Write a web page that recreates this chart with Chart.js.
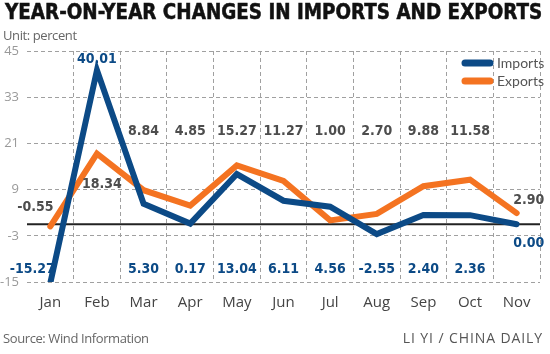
<!DOCTYPE html>
<html>
<head>
<meta charset="utf-8">
<script src="https://cdn.jsdelivr.net/npm/chart.js@4.4.1/dist/chart.umd.min.js"></script>
<style>
  body { margin: 0; background: #fff; }
  #wrap { position: relative; width: 550px; height: 354px; overflow: hidden; }
  #chart { position: absolute; left: 0; top: 0; }
  .txt { position: absolute; white-space: nowrap; }
  #title { left: 5px; top: 0px; font: bold 21px "DejaVu Sans Condensed", "DejaVu Sans"; font-stretch: condensed; line-height: 24px; color: #111; transform-origin: 0 0; -webkit-text-stroke: 0.5px #111; }
  #unit { left: 3px; top: 26px; font: 13px "Open Sans"; color: #666; letter-spacing: -0.4px; }
  #source { left: 3px; top: 329px; font: 13px "Open Sans"; color: #666; letter-spacing: -0.4px; }
  #credit { right: 7px; top: 328px; font: 14px "Open Sans"; color: #555; letter-spacing: 0.9px; }
</style>
</head>
<body>
<div id="wrap">
  <canvas id="chart" width="550" height="354"></canvas>
  <div class="txt" id="title">YEAR-ON-YEAR CHANGES IN IMPORTS AND EXPORTS</div>
  <div class="txt" id="unit">Unit: percent</div>
  <div class="txt" id="source">Source: Wind Information</div>
  <div class="txt" id="credit">LI YI / CHINA DAILY</div>
</div>
<script>
const months = ['Jan', 'Feb', 'Mar', 'Apr', 'May', 'Jun', 'Jul', 'Aug', 'Sep', 'Oct', 'Nov'];
const importsData = [-15.27, 40.01, 5.30, 0.17, 13.04, 6.11, 4.56, -2.55, 2.40, 2.36, 0.00];
const exportsData = [-0.55, 18.34, 8.84, 4.85, 15.27, 11.27, 1.00, 2.70, 9.88, 11.58, 2.90];
const yTicks = [-15, -3, 9, 21, 33, 45];

const blue = '#0c4a86';
const orange = '#f47321';

// fit the title to the width of the chart
const title = document.getElementById('title');
title.style.transform = 'scaleX(' + (537 / title.scrollWidth) + ')';

// where the value labels sit (pixels), with a few special cases
const labelRow = [269, 131];
const labelMoves = [
    { 0: { dx: -18, y: 269 }, 1: { dx: 0, y: 59 }, 10: { dx: 12, y: 243 } },
    { 0: { dx: -15, y: 207 }, 1: { dx: 5, y: 184 }, 10: { dx: 12, y: 200 } }
];
const labelColors = [blue, '#4d4d4d'];

const extras = {
    id: 'extras',
    beforeDatasetsDraw(chart) {
        const ctx = chart.ctx;
        const area = chart.chartArea;
        const y0 = chart.scales.y.getPixelForValue(0);
        ctx.save();
        ctx.strokeStyle = '#222';
        ctx.lineWidth = 2;
        ctx.beginPath();
        ctx.moveTo(area.left, y0);
        ctx.lineTo(area.right, y0);
        ctx.stroke();
        ctx.restore();
    },
    afterDatasetsDraw(chart) {
        const ctx = chart.ctx;
        const xs = chart.scales.x;
        ctx.save();
        ctx.font = 'bold 14px "DejaVu Sans Condensed", "DejaVu Sans"';
        ctx.textAlign = 'center';
        ctx.textBaseline = 'middle';
        chart.data.datasets.forEach((ds, s) => {
            ctx.fillStyle = labelColors[s];
            ds.data.forEach((v, i) => {
                const mv = labelMoves[s][i] || { dx: 0, y: labelRow[s] };
                ctx.fillText(v.toFixed(2), xs.getPixelForValue(i) + mv.dx, mv.y);
            });
        });

        // legend
        const items = [['Imports', blue, 63], ['Exports', orange, 81]];
        ctx.lineCap = 'round';
        ctx.lineWidth = 7;
        ctx.font = '14px Lato';
        ctx.textAlign = 'left';
        items.forEach(it => {
            ctx.strokeStyle = it[1];
            ctx.beginPath();
            ctx.moveTo(465, it[2]);
            ctx.lineTo(490, it[2]);
            ctx.stroke();
            ctx.fillStyle = '#555';
            ctx.fillText(it[0], 497, it[2]);
        });
        ctx.restore();
    }
};

new Chart(document.getElementById('chart'), {
    type: 'line',
    data: {
        labels: months,
        datasets: [
            { label: 'Imports', data: importsData, borderColor: blue, borderWidth: 6, pointRadius: 0, borderCapStyle: 'round', tension: 0 },
            { label: 'Exports', data: exportsData, borderColor: orange, borderWidth: 6, pointRadius: 0, borderCapStyle: 'round', tension: 0 }
        ]
    },
    options: {
        responsive: false,
        animation: false,
        layout: { padding: { top: 51, right: 10, bottom: 0, left: 0 } },
        plugins: {
            legend: { display: false },
            tooltip: { enabled: false }
        },
        scales: {
            x: {
                offset: true,
                grid: {
                    offset: true,
                    drawTicks: false,
                    color: c => (c.index === 0 || c.index === months.length) ? 'rgba(0,0,0,0)' : '#a0a0a0'
                },
                border: { display: false, dash: [4, 3] },
                ticks: { color: '#444', font: { family: 'Open Sans', size: 15 }, padding: 12 },
                afterFit: s => { s.height = 72; }
            },
            y: {
                min: -15,
                max: 45,
                afterBuildTicks: s => { s.ticks = yTicks.map(v => ({ value: v })); },
                grid: { drawTicks: false, color: '#a0a0a0' },
                border: { display: false, dash: [4, 3] },
                ticks: { color: '#999', font: { family: 'Open Sans', size: 13 }, padding: 8 },
                afterFit: s => { s.width = 27; }
            }
        }
    },
    plugins: [extras]
});
</script>
</body>
</html>
